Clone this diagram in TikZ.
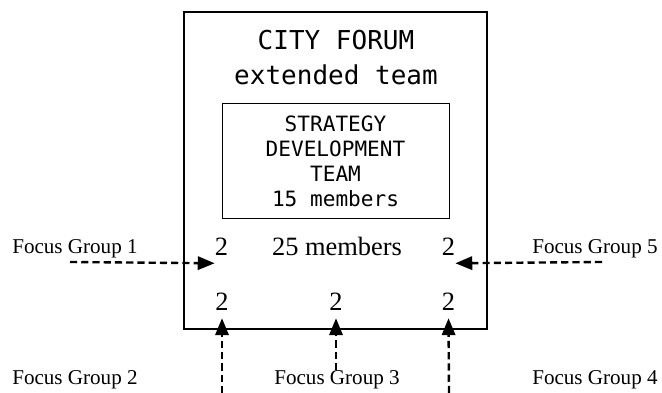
\documentclass[tikz,border=0pt]{standalone}
\usepackage{fontspec}
\setmainfont{Liberation Serif}
\setmonofont{DejaVu Sans Mono}
\usetikzlibrary{arrows.meta}
\tikzset{
    forum text/.style={font=\ttfamily\fontsize{18.5}{22}\selectfont, anchor=base},
    team box/.style={
        draw, line width=0.7pt,
        minimum width=5.675cm, minimum height=2.85cm,
        align=center, font=\ttfamily\fontsize{15}{17.8}\selectfont
    },
    group label/.style={font=\fontsize{15}{18}\selectfont, anchor=base west, inner sep=0pt},
    seat count/.style={font=\fontsize{18.8}{22}\selectfont, anchor=base, inner xsep=0pt, inner ysep=0.175cm},
    group arrow/.style={
        -{Triangle[length=12pt, width=9.5pt]},
        line width=1.7pt, dash pattern=on 5pt off 3pt
    },
}
\begin{document}
\begin{tikzpicture}
\useasboundingbox (0,0) rectangle (16.55,9.825);
\draw[line width=1.8pt] (4.6,1.6) rectangle (12.175,9.525);

\node[forum text] (forum) at (8.4,8.575) {CITY FORUM};
\node[forum text] (extended) at (8.4,7.7) {extended team};
\node[team box] (strategy) at (8.3875,5.8) {STRATEGY\\DEVELOPMENT\\TEAM\\15 members};

\node[font=\fontsize{18.8}{22}\selectfont, anchor=base] (members) at (8.425,3.425) {25 members};
\node[seat count] (seat1) at (5.5375,3.425) {2};
\node[seat count] (seat5) at (11.2125,3.425) {2};
\node[seat count] (seat2) at (5.55,2.05) {2};
\node[seat count] (seat3) at (8.4,2.05) {2};
\node[seat count] (seat4) at (11.2125,2.05) {2};

\node[group label] (fg1) at (0.3,3.475) {Focus Group 1};
\node[group label] (fg5) at (13.3,3.475) {Focus Group 5};
\node[group label] (fg2) at (0.3,0.2) {Focus Group 2};
\node[group label, anchor=base] (fg3) at (8.425,0.2) {Focus Group 3};
\node[group label] (fg4) at (13.3,0.2) {Focus Group 4};

\coordinate (in1) at (1.75,3.275);
\coordinate (in5) at (15.05,3.275);
\coordinate (in2) at (5.55,0);
\coordinate (in3) at (8.4,0.575);
\coordinate (in4) at (11.225,0);

\draw[group arrow] (in1) -- (seat1.south west);
\draw[group arrow] (in5) -- (seat5.south east);
\draw[group arrow] (in2) -- (seat2.south);
\draw[group arrow] (in3) -- (seat3.south);
\draw[group arrow] (in4) -- (seat4.south);
\end{tikzpicture}
\end{document}
